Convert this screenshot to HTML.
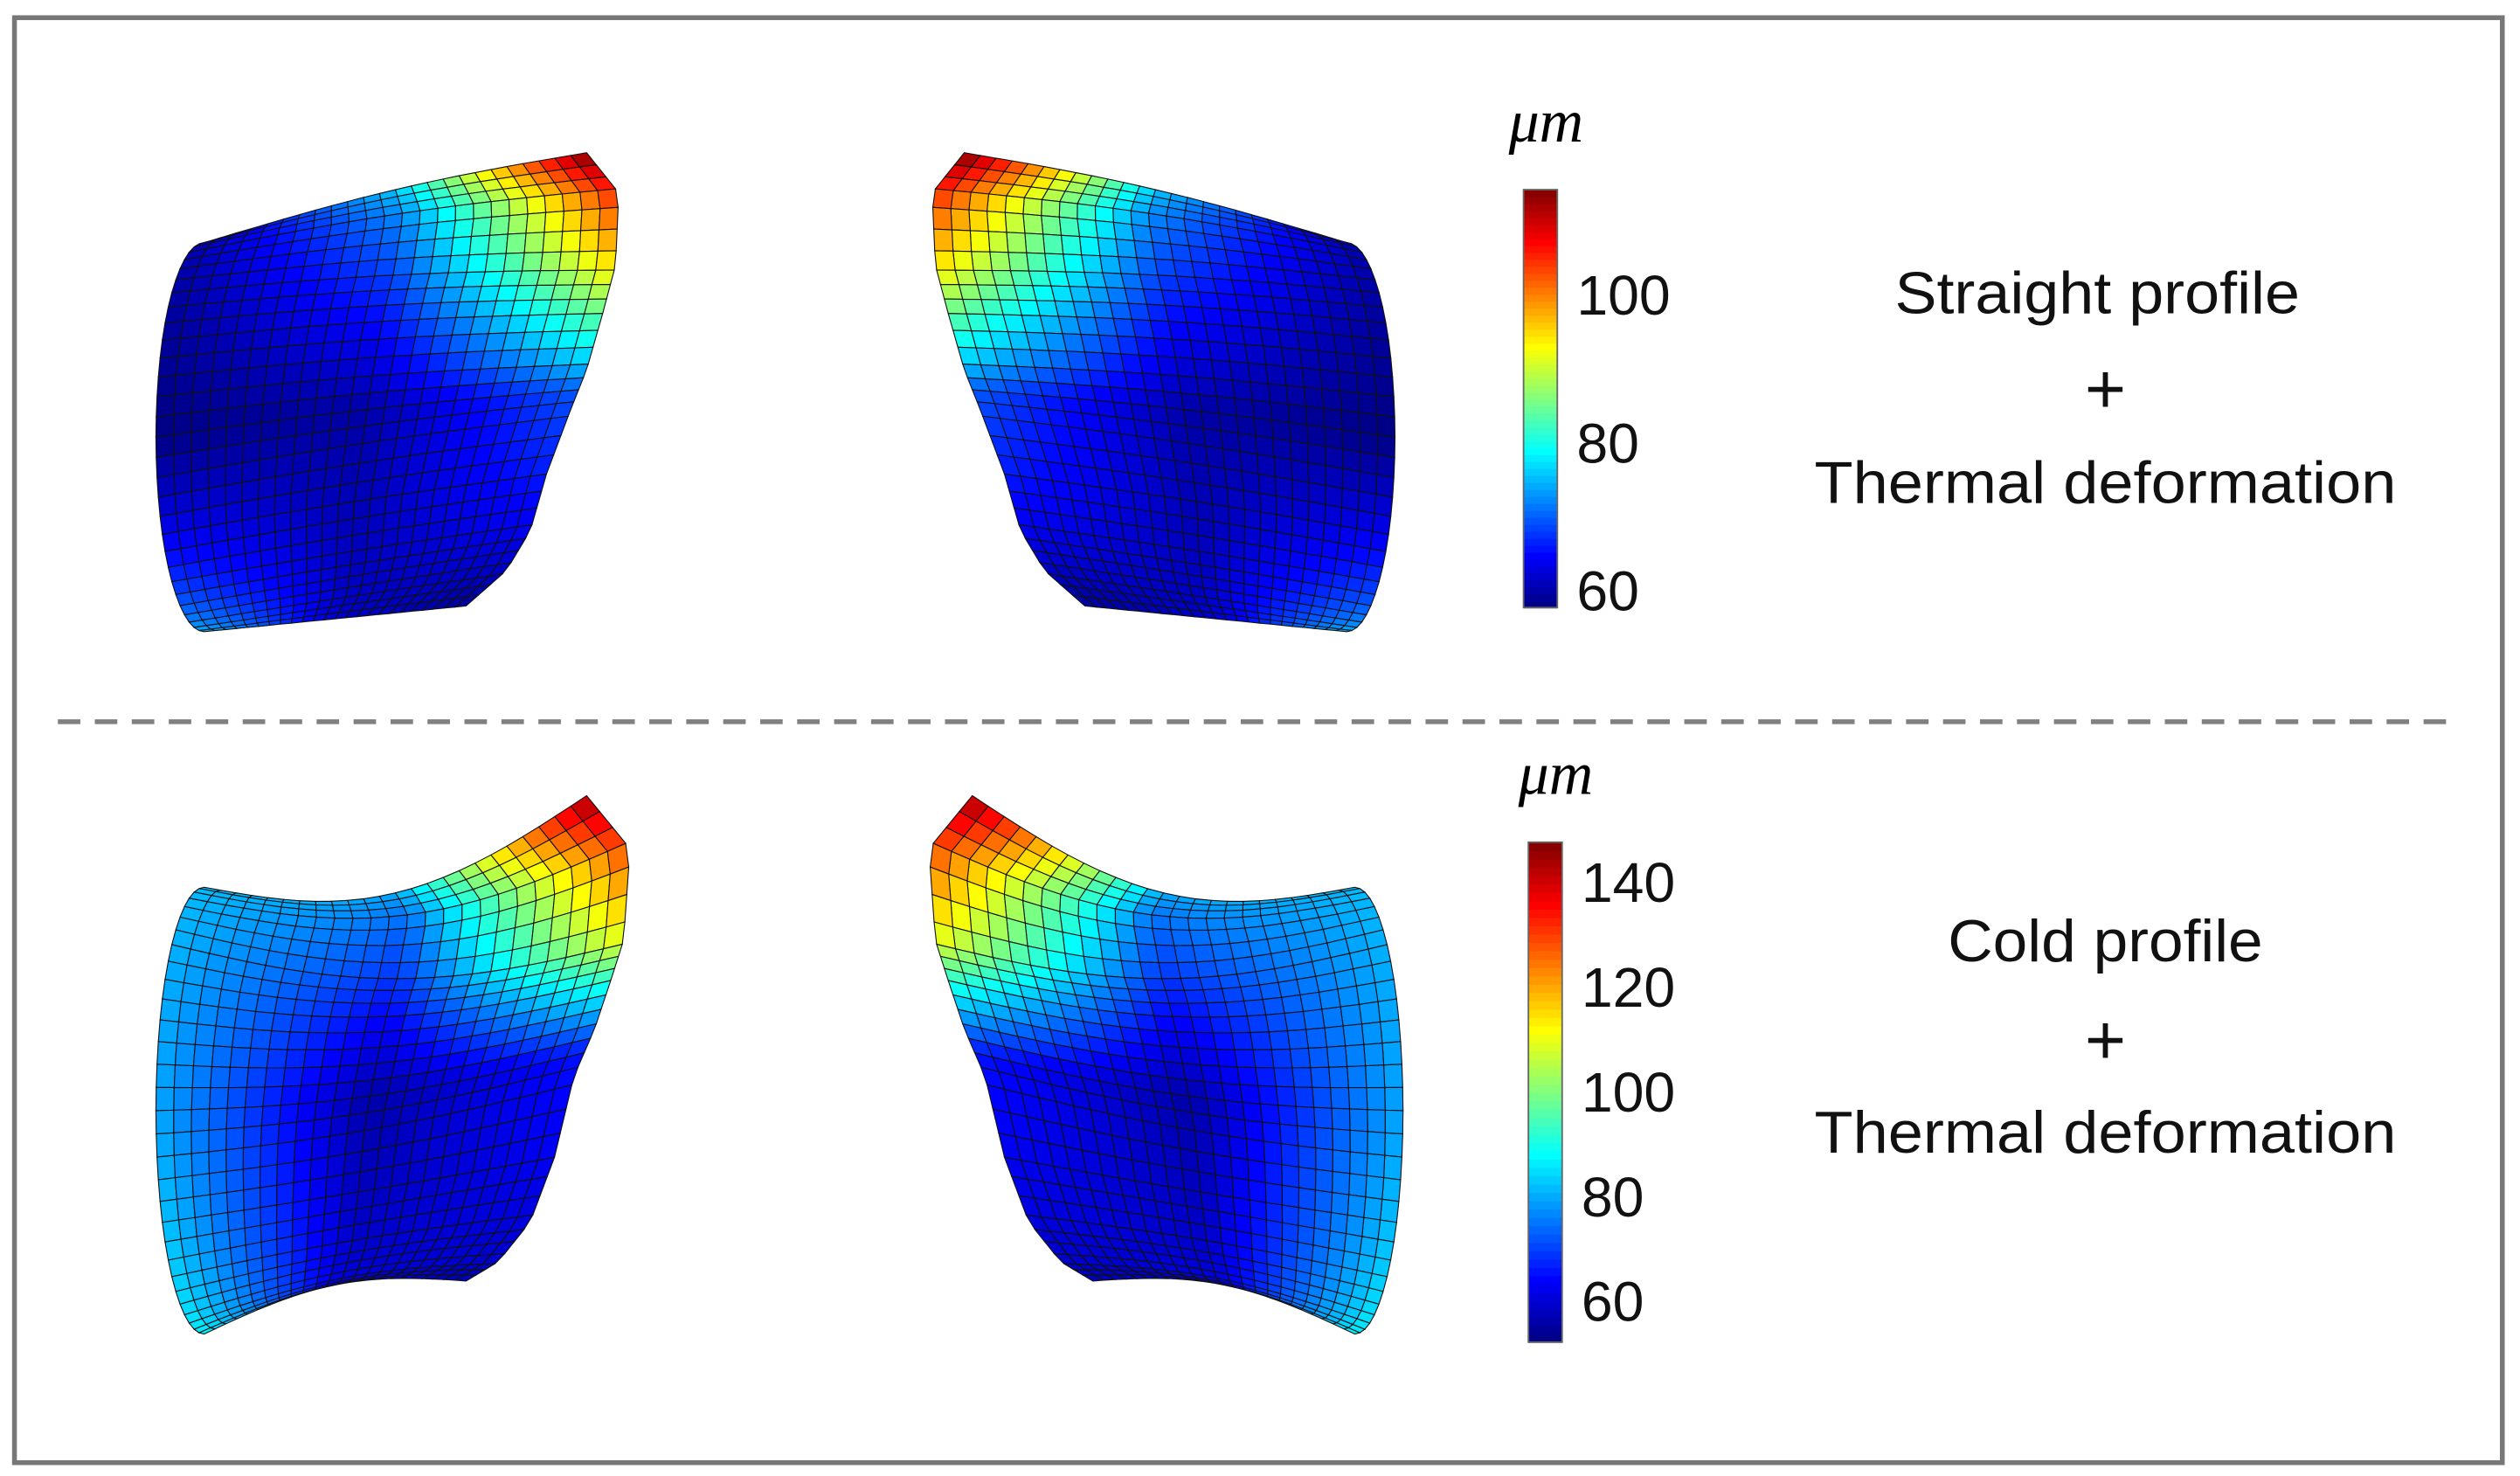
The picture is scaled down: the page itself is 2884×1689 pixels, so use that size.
<!DOCTYPE html>
<html><head><meta charset="utf-8"><style>
html,body{margin:0;padding:0;background:#fff;}
svg{display:block;}
</style></head><body>
<svg id="fig" width="2884" height="1689" viewBox="0 0 1568 918.3" xmlns="http://www.w3.org/2000/svg">
<rect x="9" y="11" width="1548" height="899" fill="#fff" stroke="#777" stroke-width="3"/>
<line x1="36" y1="449" x2="1530" y2="449" stroke="#808080" stroke-width="3" stroke-dasharray="14,9"/>
<g id="surfaces"></g>
<g id="bars"></g>
<g font-family="Liberation Sans, DejaVu Sans, sans-serif" fill="#111" text-anchor="middle" font-size="37">
<text x="1305" y="195" textLength="252" lengthAdjust="spacingAndGlyphs">Straight profile</text>
<text x="1310" y="257" font-size="44">+</text>
<text x="1310" y="313" textLength="362" lengthAdjust="spacingAndGlyphs">Thermal deformation</text>
<text x="1310" y="598" textLength="196" lengthAdjust="spacingAndGlyphs">Cold profile</text>
<text x="1310" y="662" font-size="44">+</text>
<text x="1310" y="717" textLength="362" lengthAdjust="spacingAndGlyphs">Thermal deformation</text>
</g>
<text x="962" y="88" font-family="Liberation Serif, serif" font-style="italic" font-size="38" text-anchor="middle">μm</text>
<text x="968" y="494" font-family="Liberation Serif, serif" font-style="italic" font-size="38" text-anchor="middle">μm</text>
</svg>
<script>
// colorbar data
const topTicks = [60, 80, 100];
const topRange = [57.8, 114.3];
const botTicks = [60, 80, 100, 120, 140];
const botRange = [52.3, 147.7];
// surface value grids (rows: top, mid, bottom; cols: left, mid, right)
const valsTopLeft = [[61, 76, 115], [58, 60, 70], [76, 62, 59]];
const valsBotLeft = [[82, 80, 146], [80, 56, 66], [88, 62, 57]];
// staircase right edges (display coords) for left shapes
const stairTop = [[365,95],[385,120],[383,165],[375,195],[365,230],[355,255],[340,295],[330,330],[315,355],[290,377]];
const stairBot = [[365,495],[392,528],[388,585],[380,610],[370,640],[357,670],[345,720],[330,760],[310,785],[290,797]];

const NS = 'http://www.w3.org/2000/svg';
function jet(t){
  t = Math.max(0, Math.min(1, t));
  const r = Math.max(0, Math.min(1, 1.5 - Math.abs(4*t - 3)));
  const g = Math.max(0, Math.min(1, 1.5 - Math.abs(4*t - 2)));
  const b = Math.max(0, Math.min(1, 1.5 - Math.abs(4*t - 1)));
  return `rgb(${Math.round(r*255)},${Math.round(g*255)},${Math.round(b*255)})`;
}
function bilerp(grid, u, v){
  const rr = v*2, cc = u*2;
  const r0 = Math.min(1, Math.floor(rr)), c0 = Math.min(1, Math.floor(cc));
  const fr = rr - r0, fc = cc - c0;
  const a = grid[r0][c0]*(1-fc) + grid[r0][c0+1]*fc;
  const b = grid[r0+1][c0]*(1-fc) + grid[r0+1][c0+1]*fc;
  return a*(1-fr) + b*fr;
}
function stairAt(st, v){
  const p = v*(st.length-1), i = Math.min(st.length-2, Math.floor(p)), f = p - i;
  return [st[i][0]*(1-f)+st[i+1][0]*f, st[i][1]*(1-f)+st[i+1][1]*f];
}
function drawShape(cfg){
  const g = document.createElementNS(NS,'g');
  
  
  document.getElementById('surfaces').appendChild(g);
  const R = 30, C = 24;
  const pt = (i,j) => {
    const v = i/R, u = j/C;
    const t = -Math.PI/2 + Math.PI*v;
    const L = [cfg.cx - cfg.rx*Math.cos(t), cfg.cy + cfg.ry*Math.sin(t)];
    const Rp = stairAt(cfg.stair, v);
    const sag = cfg.sagTop*(1-v) + cfg.sagBot*v;
    let x = L[0] + (Rp[0]-L[0])*u;
    let y = L[1] + (Rp[1]-L[1])*u + sag*Math.sin(Math.PI*u);
    if (cfg.mirror) x = cfg.mirror - x;
    return [x, y];
  };
  const lo = cfg.range[0], hi = cfg.range[1];
  for (let i=0;i<R;i++){
    for (let j=0;j<C;j++){
      const a=pt(i,j), b=pt(i,j+1), c=pt(i+1,j+1), d=pt(i+1,j);
      const val = bilerp(cfg.vals, (j+0.5)/C, (i+0.5)/R);
      const p = document.createElementNS(NS,'polygon');
      
      
      p.setAttribute('points', [a,b,c,d].map(q=>q[0].toFixed(1)+','+q[1].toFixed(1)).join(' '));
      p.setAttribute('fill', jet((val-lo)/(hi-lo)));
      p.setAttribute('stroke', '#111');
      p.setAttribute('stroke-width', '0.6');
      g.appendChild(p);
    }
  }
}
drawShape({name:'top-left-surface', cx:127, cy:272, rx:30, ry:121, stair:stairTop, sagTop:-5, sagBot:0, vals:valsTopLeft, range:topRange});
drawShape({name:'top-right-surface', cx:127, cy:272, rx:30, ry:121, stair:stairTop, sagTop:-5, sagBot:0, vals:valsTopLeft, range:topRange, mirror:965});
drawShape({name:'bottom-left-surface', cx:127, cy:691, rx:30, ry:139, stair:stairBot, sagTop:32, sagBot:-14, vals:valsBotLeft, range:botRange});
drawShape({name:'bottom-right-surface', cx:127, cy:691, rx:30, ry:139, stair:stairBot, sagTop:32, sagBot:-14, vals:valsBotLeft, range:botRange, mirror:970});

function drawBar(name, x, y0, y1, w, range, ticks){
  const g = document.createElementNS(NS,'g');
  
  
  document.getElementById('bars').appendChild(g);
  const n = 60, h = (y1-y0)/n;
  for (let k=0;k<n;k++){
    const r = document.createElementNS(NS,'rect');
    
    
    r.setAttribute('x', x); r.setAttribute('y', (y1-(k+1)*h).toFixed(2));
    r.setAttribute('width', w); r.setAttribute('height', (h+0.5).toFixed(2));
    r.setAttribute('fill', jet((k+0.5)/n));
    g.appendChild(r);
  }
  const fr = document.createElementNS(NS,'rect');
  
  
  fr.setAttribute('x', x); fr.setAttribute('y', y0); fr.setAttribute('width', w); fr.setAttribute('height', y1-y0);
  fr.setAttribute('fill', 'none'); fr.setAttribute('stroke', '#666'); fr.setAttribute('stroke-width', '1');
  g.appendChild(fr);
  const ys = v => y1 - (v-range[0])/(range[1]-range[0])*(y1-y0);
  ticks.forEach(v=>{
    const t = document.createElementNS(NS,'text');
    
    
    t.setAttribute('x', x+w+12); t.setAttribute('y', ys(v)+12);
    t.setAttribute('font-family', 'Liberation Sans, DejaVu Sans, sans-serif');
    t.setAttribute('font-size', '35'); t.setAttribute('fill', '#111');
    t.textContent = v;
    g.appendChild(t);
  });
}
drawBar('top-colorbar', 948, 118, 378, 21, topRange, topTicks);
drawBar('bottom-colorbar', 951, 524, 835, 21, botRange, botTicks);
</script>
</body></html>
